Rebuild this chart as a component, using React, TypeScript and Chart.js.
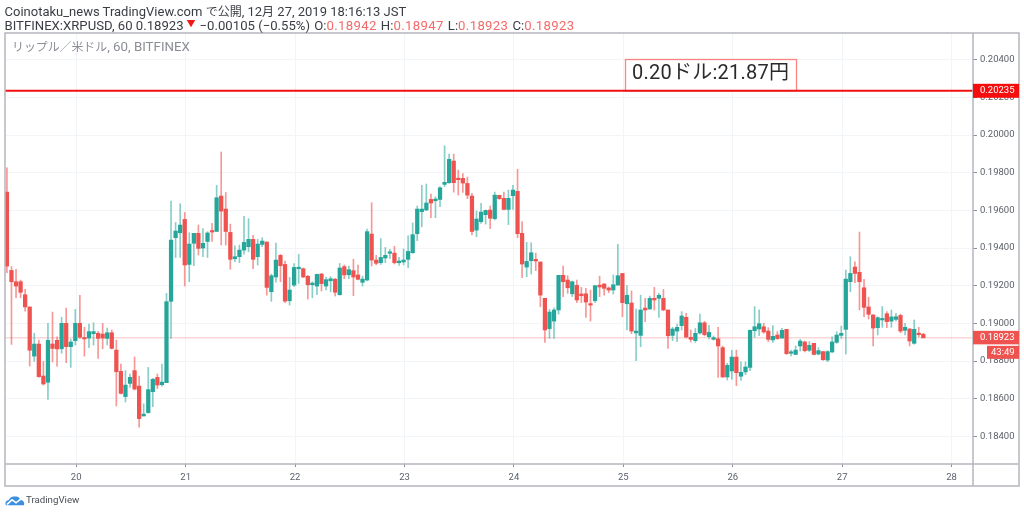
import React, { useEffect, useRef } from "react";
import { Chart, registerables } from "chart.js";

Chart.register(...registerables);

const opens = [
0.19697,0.19281,0.19221,0.19221,0.19152,0.19087,0.18826,0.18890,0.18720,0.18687,
0.18890,0.18910,0.18865,0.19000,0.18876,0.18908,0.19000,0.18922,0.18922,0.18945,
0.18947,0.18943,0.18920,0.18950,0.18858,0.18745,0.18611,0.18681,0.18749,0.18667,
0.18508,0.18526,0.18637,0.18713,0.18674,0.18685,0.19117,0.19455,0.19481,0.19552,
0.19313,0.19425,0.19478,0.19400,0.19435,0.19490,0.19488,0.19676,0.19607,0.19483,
0.19343,0.19354,0.19389,0.19407,0.19446,0.19354,0.19419,0.19432,0.19168,0.19246,
0.19361,0.19313,0.19120,0.19203,0.19290,0.19290,0.19250,0.19205,0.19198,0.19262,
0.19198,0.19226,0.19234,0.19152,0.19301,0.19258,0.19280,0.19257,0.19218,0.19230,
0.19474,0.19336,0.19322,0.19347,0.19372,0.19373,0.19322,0.19326,0.19340,0.19375,
0.19476,0.19593,0.19602,0.19658,0.19651,0.19658,0.19738,0.19747,0.19862,0.19770,
0.19770,0.19743,0.19676,0.19495,0.19540,0.19577,0.19602,0.19556,0.19680,0.19664,
0.19605,0.19678,0.19701,0.19478,0.19299,0.19333,0.19340,0.19326,0.19133,0.18972,
0.19012,0.19071,0.19255,0.19230,0.19157,0.19202,0.19156,0.19157,0.19104,0.19120,
0.19203,0.19209,0.19188,0.19177,0.19203,0.19265,0.19104,0.19108,0.18949,0.18936,
0.19081,0.19076,0.19133,0.19133,0.19133,0.19071,0.18936,0.18959,0.18988,0.19032,
0.18926,0.18908,0.18949,0.19003,0.18929,0.18915,0.18918,0.18871,0.18715,0.18747,
0.18821,0.18719,0.18742,0.18766,0.18961,0.18970,0.18982,0.18959,0.18912,0.18938,
0.18922,0.18968,0.18841,0.18835,0.18880,0.18901,0.18857,0.18894,0.18837,0.18850,
0.18805,0.18848,0.18899,0.18936,0.18968,0.19221,0.19299,0.19271,0.19189,0.19087,
0.19044,0.18977,0.19018,0.19051,0.19012,0.19021,0.19042,0.18963,0.18970,0.18894,
0.18947,0.18942];

const closes = [
0.19304,0.19221,0.19198,0.19165,0.19087,0.18857,0.18890,0.18717,0.18678,0.18910,
0.18867,0.18864,0.19000,0.18876,0.18901,0.19000,0.18926,0.18917,0.18956,0.18956,
0.18920,0.18922,0.18950,0.18867,0.18743,0.18628,0.18672,0.18713,0.18651,0.18494,
0.18518,0.18648,0.18703,0.18672,0.18688,0.19115,0.19442,0.19490,0.19522,0.19310,
0.19421,0.19478,0.19398,0.19425,0.19480,0.19485,0.19667,0.19596,0.19488,0.19340,
0.19354,0.19389,0.19430,0.19446,0.19340,0.19421,0.19437,0.19191,0.19253,0.19336,
0.19306,0.19118,0.19177,0.19297,0.19294,0.19246,0.19205,0.19214,0.19260,0.19211,
0.19232,0.19237,0.19165,0.19294,0.19257,0.19285,0.19246,0.19234,0.19235,0.19487,
0.19336,0.19319,0.19350,0.19361,0.19375,0.19322,0.19331,0.19336,0.19382,0.19471,
0.19607,0.19607,0.19639,0.19639,0.19660,0.19720,0.19749,0.19871,0.19747,0.19763,
0.19745,0.19681,0.19488,0.19554,0.19591,0.19600,0.19558,0.19681,0.19662,0.19605,
0.19664,0.19708,0.19476,0.19315,0.19329,0.19375,0.19331,0.19150,0.18965,0.19060,
0.19071,0.19255,0.19221,0.19189,0.19221,0.19124,0.19147,0.19113,0.19097,0.19200,
0.19193,0.19186,0.19177,0.19205,0.19253,0.19110,0.19149,0.18959,0.18959,0.19071,
0.19071,0.19133,0.19124,0.19149,0.19071,0.18934,0.18970,0.18979,0.19039,0.18927,
0.18915,0.18947,0.19003,0.18940,0.18952,0.18924,0.18880,0.18715,0.18777,0.18821,
0.18738,0.18740,0.18768,0.18963,0.18982,0.18998,0.18954,0.18915,0.18931,0.18919,
0.18963,0.18839,0.18848,0.18858,0.18906,0.18855,0.18883,0.18835,0.18855,0.18807,
0.18850,0.18901,0.18938,0.18947,0.19235,0.19265,0.19265,0.19221,0.19085,0.19048,
0.18975,0.19030,0.19023,0.19009,0.19034,0.19035,0.18959,0.18979,0.18906,0.18968,
0.18940,0.18923];

const highs = [
0.19826,0.19301,0.19287,0.19230,0.19180,0.19087,0.18947,0.18911,0.18798,0.19000,
0.19060,0.18929,0.19032,0.19081,0.18915,0.19074,0.19149,0.18979,0.18996,0.19003,
0.18957,0.19000,0.18975,0.18965,0.18911,0.18784,0.18749,0.18731,0.18821,0.18720,
0.18572,0.18766,0.18708,0.18731,0.18784,0.19159,0.19649,0.19536,0.19635,0.19589,
0.19481,0.19478,0.19522,0.19503,0.19487,0.19531,0.19733,0.19910,0.19695,0.19527,
0.19412,0.19416,0.19568,0.19556,0.19467,0.19446,0.19455,0.19432,0.19262,0.19426,
0.19366,0.19331,0.19244,0.19318,0.19366,0.19294,0.19255,0.19221,0.19262,0.19265,
0.19246,0.19248,0.19239,0.19318,0.19310,0.19304,0.19340,0.19310,0.19251,0.19501,
0.19641,0.19361,0.19451,0.19403,0.19393,0.19409,0.19350,0.19395,0.19465,0.19533,
0.19623,0.19733,0.19740,0.19687,0.19672,0.19727,0.19943,0.19899,0.19899,0.19814,
0.19796,0.19777,0.19691,0.19596,0.19637,0.19602,0.19623,0.19697,0.19681,0.19697,
0.19708,0.19733,0.19818,0.19540,0.19430,0.19428,0.19373,0.19326,0.19133,0.19074,
0.19083,0.19255,0.19304,0.19253,0.19225,0.19230,0.19191,0.19186,0.19177,0.19202,
0.19251,0.19211,0.19193,0.19257,0.19419,0.19265,0.19200,0.19172,0.19076,0.19149,
0.19133,0.19145,0.19191,0.19159,0.19180,0.19071,0.18979,0.18996,0.19062,0.19053,
0.18965,0.18973,0.19049,0.19011,0.18989,0.18933,0.18979,0.18880,0.18788,0.18857,
0.18858,0.18795,0.18796,0.18965,0.19089,0.19071,0.19000,0.18977,0.18988,0.18956,
0.18973,0.18968,0.18858,0.18880,0.18915,0.18906,0.18903,0.18894,0.18871,0.18850,
0.18855,0.18929,0.18956,0.18986,0.19283,0.19354,0.19327,0.19485,0.19234,0.19138,
0.19048,0.19035,0.19089,0.19062,0.19071,0.19053,0.19049,0.19000,0.18973,0.19018,
0.18979,0.18947];

const lows = [
0.19269,0.18888,0.19136,0.19136,0.19065,0.18773,0.18798,0.18713,0.18672,0.18596,
0.18795,0.18773,0.18841,0.18791,0.18766,0.18885,0.18920,0.18826,0.18871,0.18885,
0.18814,0.18865,0.18885,0.18864,0.18561,0.18625,0.18582,0.18660,0.18646,0.18448,
0.18508,0.18522,0.18557,0.18653,0.18667,0.18685,0.18920,0.19350,0.19350,0.19198,
0.19221,0.19306,0.19363,0.19354,0.19350,0.19435,0.19488,0.19416,0.19416,0.19287,
0.19327,0.19322,0.19368,0.19380,0.19290,0.19310,0.19407,0.19150,0.19117,0.19219,
0.19221,0.19110,0.19097,0.19195,0.19212,0.19243,0.19129,0.19136,0.19152,0.19172,
0.19177,0.19168,0.19145,0.19150,0.19237,0.19237,0.19147,0.19230,0.19198,0.19225,
0.19304,0.19311,0.19313,0.19322,0.19345,0.19315,0.19308,0.19311,0.19296,0.19372,
0.19439,0.19513,0.19598,0.19561,0.19561,0.19619,0.19726,0.19743,0.19697,0.19681,
0.19695,0.19662,0.19469,0.19460,0.19531,0.19527,0.19503,0.19549,0.19658,0.19602,
0.19524,0.19605,0.19455,0.19242,0.19248,0.19262,0.19280,0.19088,0.18899,0.18920,
0.18920,0.19049,0.19142,0.19159,0.19142,0.19110,0.19110,0.19032,0.19012,0.19110,
0.19142,0.19150,0.19163,0.19156,0.19203,0.19035,0.18965,0.18945,0.18802,0.18876,
0.19009,0.19076,0.19071,0.19032,0.19067,0.18867,0.18908,0.18903,0.18965,0.18922,
0.18901,0.18899,0.18943,0.18933,0.18917,0.18911,0.18713,0.18713,0.18699,0.18703,
0.18669,0.18697,0.18727,0.18749,0.18926,0.18935,0.18947,0.18903,0.18899,0.18915,
0.18920,0.18835,0.18827,0.18834,0.18853,0.18848,0.18850,0.18832,0.18832,0.18803,
0.18796,0.18844,0.18894,0.18920,0.18837,0.19168,0.19216,0.19071,0.19035,0.19023,
0.18880,0.18938,0.18979,0.18977,0.18979,0.19012,0.18950,0.18938,0.18880,0.18889,
0.18929,0.18923];

const dayLabels = ["20", "21", "22", "23", "24", "25", "26", "27", "28"];
const priceTicks = [0.184, 0.186, 0.188, 0.19, 0.192, 0.194, 0.196, 0.198, 0.2, 0.202, 0.204];
const firstDayHour = 15.2;
const hoursPerDay = 24;
const levelPrice = 0.20235;
const lastPrice = 0.18923;
const countdown = "43:49";
const noteText = "0.20ドル:21.87円";
const watermarkKana = "リップル／米ドル";
const watermarkRest = ", 60, BITFINEX";

const UP = "#26a69a";
const DOWN = "#ef5350";
const UP_WICK = "rgba(38,166,154,0.55)";
const DOWN_WICK = "rgba(239,83,80,0.6)";
const FRAME = "#b4b6bd";
const TEXT = "#5a5f68";
const GRID = "#f1f5f8";
const FONT = 'Roboto, "Noto Sans CJK JP", sans-serif';
const TICK_SIZE = 9.5;

const isUp = (i: number) => closes[i] >= opens[i];

const overlay = {
  id: "overlay",
  beforeDatasetsDraw(chart: any) {
    const { ctx, chartArea: a, scales } = chart;
    const py = scales.y.getPixelForValue(lastPrice);
    ctx.save();
    ctx.strokeStyle = "rgba(239,83,80,0.35)";
    ctx.lineWidth = 1;
    ctx.beginPath();
    ctx.moveTo(a.left, py);
    ctx.lineTo(a.right, py);
    ctx.stroke();
    ctx.restore();
  },
  afterDraw(chart: any) {
    const { ctx, chartArea: a, scales } = chart;
    const y = scales.y;
    const outerRight = 1019;
    const outerBottom = 486;
    ctx.save();

    ctx.fillStyle = "#8b8e95";
    ctx.textAlign = "left";
    ctx.textBaseline = "middle";
    ctx.font = `11.9px ${FONT}`;
    ctx.fillText(watermarkKana, 12, 48);
    const kanaWidth = ctx.measureText(watermarkKana).width;
    ctx.font = `13.3px ${FONT}`;
    ctx.fillText(watermarkRest, 12 + kanaWidth, 48);

    const ly = y.getPixelForValue(levelPrice);
    ctx.fillStyle = "#ffffff";
    ctx.fillRect(625.5, 59.5, 171, ly - 59.5);
    ctx.strokeStyle = "rgba(255,50,50,0.6)";
    ctx.lineWidth = 1.3;
    ctx.strokeRect(625.5, 59.5, 171, ly - 59.5);
    ctx.fillStyle = "#2a2a2a";
    ctx.font = `20px ${FONT}`;
    ctx.textBaseline = "alphabetic";
    ctx.letterSpacing = "0.25px";
    ctx.fillText(noteText, 632, 79);
    ctx.letterSpacing = "0px";

    ctx.strokeStyle = "#f01010";
    ctx.lineWidth = 2;
    ctx.beginPath();
    ctx.moveTo(a.left, ly);
    ctx.lineTo(a.right, ly);
    ctx.stroke();

    ctx.strokeStyle = FRAME;
    ctx.lineWidth = 1.5;
    ctx.strokeRect(a.left, a.top, outerRight - a.left, outerBottom - a.top);
    ctx.beginPath();
    ctx.moveTo(a.right, a.top);
    ctx.lineTo(a.right, outerBottom);
    ctx.moveTo(a.left, a.bottom);
    ctx.lineTo(outerRight, a.bottom);
    ctx.stroke();

    ctx.font = `${TICK_SIZE}px ${FONT}`;
    ctx.textBaseline = "middle";
    ctx.textAlign = "left";
    ctx.fillStyle = "#f60d0d";
    ctx.fillRect(a.right, ly - 7, outerRight - a.right, 14);
    ctx.fillStyle = "#ffffff";
    ctx.fillText(levelPrice.toFixed(5), 980, ly);

    const py = y.getPixelForValue(lastPrice);
    ctx.fillStyle = DOWN;
    ctx.fillRect(a.right, py - 7, outerRight - a.right, 13.5);
    ctx.fillRect(987, py + 8, outerRight - 987, 13);
    ctx.fillStyle = "#ffffff";
    ctx.fillText(lastPrice.toFixed(5), 980, py);
    ctx.fillText(countdown, 991, py + 14.5);
    ctx.restore();
  },
};

export default function App() {
  const ref = useRef<HTMLCanvasElement | null>(null);

  useEffect(() => {
    document.body.style.margin = "0";
    const xs = opens.map((_, i) => i);
    const chart = new Chart(ref.current as HTMLCanvasElement, {
      type: "bar",
      data: {
        datasets: [
          {
            label: "wick",
            order: 2,
            grouped: false,
            barThickness: 1,
            data: xs.map((i) => ({ x: i, y: [lows[i], highs[i]] })),
            backgroundColor: xs.map((i) => (isUp(i) ? UP_WICK : DOWN_WICK)),
          },
          {
            label: "body",
            order: 1,
            grouped: false,
            barThickness: 3.6,
            minBarLength: 1.5,
            data: xs.map((i) => ({ x: i, y: [Math.min(opens[i], closes[i]), Math.max(opens[i], closes[i])] })),
            backgroundColor: xs.map((i) => (isUp(i) ? UP : DOWN)),
          },
        ],
      } as any,
      options: {
        responsive: false,
        animation: false,
        devicePixelRatio: 1,
        layout: { padding: { left: 5, top: 33, right: 5, bottom: 28 } },
        plugins: { legend: { display: false }, title: { display: false }, tooltip: { enabled: false } },
        scales: {
          x: {
            type: "linear",
            min: -0.42,
            max: 211.9,
            offset: false,
            grid: { offset: false, color: GRID, tickColor: "#8b8e95", tickLength: 3, drawOnChartArea: true },
            border: { display: false },
            afterBuildTicks(scale: any) {
              scale.ticks = dayLabels.map((_, k) => ({ value: firstDayHour + hoursPerDay * k }));
            },
            afterFit(scale: any) {
              scale.height = 22;
            },
            ticks: {
              autoSkip: false,
              maxRotation: 0,
              color: TEXT,
              font: { family: FONT, size: TICK_SIZE },
              padding: 5,
              callback: (_v: any, i: number) => dayLabels[i],
            },
          },
          y: {
            type: "linear",
            position: "right",
            min: 0.18253,
            max: 0.20542,
            grid: { color: GRID, tickColor: "#8b8e95", tickLength: 4 },
            border: { display: false },
            afterBuildTicks(scale: any) {
              scale.ticks = priceTicks.map((value) => ({ value }));
            },
            afterFit(scale: any) {
              scale.width = 46;
            },
            ticks: {
              color: TEXT,
              font: { family: FONT, size: TICK_SIZE },
              padding: 3,
              callback: (v: any) => Number(v).toFixed(5),
            },
          },
        },
      },
      plugins: [overlay],
    } as any);
    return () => chart.destroy();
  }, []);

  const redNum = { color: "#f46a6a", letterSpacing: 0.35 };
  const cjk = { fontSize: 12 };
  const gap = { marginLeft: 4.2 };
  const line: React.CSSProperties = { position: "absolute", left: 4.5, whiteSpace: "nowrap", fontFamily: FONT, lineHeight: "14px", color: "#3a3d44" };

  return (
    <div style={{ position: "relative", width: 1024, height: 514, overflow: "hidden", background: "#fff" }}>
      <canvas ref={ref} width={1024} height={514} style={{ display: "block", position: "absolute", left: 0, top: 0 }} />
      <div style={{ ...line, top: 5, fontSize: 13 }}>
        Coinotaku_news TradingView.com <span style={cjk}>で公開</span>, 12<span style={cjk}>月</span> 27, 2019 18:16:13 JST
      </div>
      <div style={{ ...line, top: 17, fontSize: 13.15 }}>
        BITFINEX:XRPUSD, 60 0.18923
        <span style={{ color: "#f01818", fontSize: 9, verticalAlign: 3, marginLeft: 3, marginRight: 4 }}>▼</span>
        −0.00105 (−0.55%)
        <span style={gap}>O:</span><span style={redNum}>0.18942</span>
        <span style={gap}>H:</span><span style={redNum}>0.18947</span>
        <span style={gap}>L:</span><span style={redNum}>0.18923</span>
        <span style={gap}>C:</span><span style={redNum}>0.18923</span>
      </div>
      <svg width="20" height="11" viewBox="0 0 20 14" preserveAspectRatio="none" style={{ position: "absolute", left: 4.5, top: 495 }}>
        <path d="M1 13 Q-1 8 4 6 Q6 1 10 2 Q14 1 15 6 Q20 7 19 13 Z" fill="#3c8fe0" />
        <path d="M2 12 L7 6 L11 10 L17 4" fill="none" stroke="#fff" strokeWidth="1.8" />
      </svg>
      <div style={{ position: "absolute", left: 26, top: 493, fontFamily: FONT, fontSize: 9.7, lineHeight: "14px", color: "#4a4d55" }}>TradingView</div>
    </div>
  );
}
